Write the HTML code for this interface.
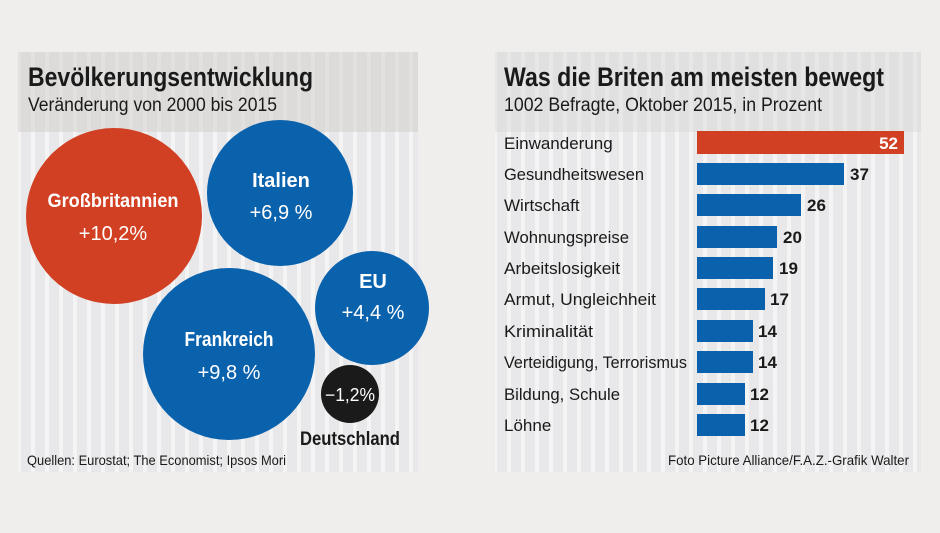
<!DOCTYPE html>
<html><head><meta charset="utf-8"><style>
body{margin:0;width:940px;height:528px;background:#f0eeec;overflow:hidden;font-family:"Liberation Sans",sans-serif;}
</style></head><body>
<svg width="940" height="528" viewBox="0 0 940 528" xmlns="http://www.w3.org/2000/svg" font-family="Liberation Sans, sans-serif">
<defs>
<pattern id="st" width="14" height="10" patternUnits="userSpaceOnUse"><rect width="14" height="10" fill="#e8e8ea"/><rect x="3" width="4" height="10" fill="#f4f4f5"/></pattern>
</defs>
<rect x="18" y="52" width="400" height="420" fill="url(#st)"/>
<rect x="18" y="52" width="400" height="80" fill="#cfcdc9" opacity="0.5"/>
<rect x="495" y="52" width="426" height="420" fill="url(#st)"/>
<rect x="495" y="52" width="426" height="80" fill="#d8d7d4" opacity="0.45"/>
<text x="28" y="86" font-size="27" font-weight="bold" fill="#1a1a1a" textLength="285" lengthAdjust="spacingAndGlyphs">Bevölkerungsentwicklung</text>
<text x="28" y="111" font-size="19" fill="#1a1a1a" textLength="249" lengthAdjust="spacingAndGlyphs">Veränderung von 2000 bis 2015</text>
<circle cx="114" cy="216" r="88" fill="#d24024"/>
<circle cx="280" cy="193" r="73" fill="#0a62ad"/>
<circle cx="372" cy="308" r="57" fill="#0a62ad"/>
<circle cx="229" cy="354" r="86" fill="#0a62ad"/>
<circle cx="350" cy="394" r="29" fill="#1a1a1a"/>
<g fill="#fff" text-anchor="middle" font-size="20">
<text x="113" y="207" font-weight="bold" font-size="19" textLength="131" lengthAdjust="spacingAndGlyphs">Großbritannien</text>
<text x="113" y="240">+10,2%</text>
<text x="281" y="187" font-weight="bold">Italien</text>
<text x="281" y="219">+6,9 %</text>
<text x="373" y="288" font-weight="bold">EU</text>
<text x="373" y="319">+4,4 %</text>
<text x="229" y="346" font-weight="bold" textLength="89" lengthAdjust="spacingAndGlyphs">Frankreich</text>
<text x="229" y="379">+9,8 %</text>
<text x="350" y="401" font-size="18" textLength="50" lengthAdjust="spacingAndGlyphs">−1,2%</text>
</g>
<text x="350" y="445" text-anchor="middle" font-size="19" font-weight="bold" fill="#1a1a1a" textLength="100" lengthAdjust="spacingAndGlyphs">Deutschland</text>
<text x="27" y="465" font-size="14" fill="#1a1a1a" textLength="259" lengthAdjust="spacingAndGlyphs">Quellen: Eurostat; The Economist; Ipsos Mori</text>
<text x="504" y="86" font-size="27" font-weight="bold" fill="#1a1a1a" textLength="380" lengthAdjust="spacingAndGlyphs">Was die Briten am meisten bewegt</text>
<text x="504" y="111" font-size="19" fill="#1a1a1a" textLength="318" lengthAdjust="spacingAndGlyphs">1002 Befragte, Oktober 2015, in Prozent</text>
<g font-size="17" fill="#1a1a1a">
<rect x="697" y="131" width="207" height="23" fill="#d24024"/>
<text x="504" y="149">Einwanderung</text><text x="898" y="149" text-anchor="end" fill="#fff" font-weight="bold">52</text>
<rect x="697" y="163" width="147" height="22" fill="#0a62ad"/>
<text x="504" y="180" textLength="140" lengthAdjust="spacingAndGlyphs">Gesundheitswesen</text><text x="850" y="180" font-weight="bold">37</text>
<rect x="697" y="194" width="104" height="22" fill="#0a62ad"/>
<text x="504" y="211">Wirtschaft</text><text x="807" y="211" font-weight="bold">26</text>
<rect x="697" y="226" width="80" height="22" fill="#0a62ad"/>
<text x="504" y="243" textLength="125" lengthAdjust="spacingAndGlyphs">Wohnungspreise</text><text x="783" y="243" font-weight="bold">20</text>
<rect x="697" y="257" width="76" height="22" fill="#0a62ad"/>
<text x="504" y="274" textLength="116" lengthAdjust="spacingAndGlyphs">Arbeitslosigkeit</text><text x="779" y="274" font-weight="bold">19</text>
<rect x="697" y="288" width="68" height="22" fill="#0a62ad"/>
<text x="504" y="305" textLength="152" lengthAdjust="spacingAndGlyphs">Armut, Ungleichheit</text><text x="770" y="305" font-weight="bold">17</text>
<rect x="697" y="320" width="56" height="22" fill="#0a62ad"/>
<text x="504" y="337" textLength="89" lengthAdjust="spacingAndGlyphs">Kriminalität</text><text x="758" y="337" font-weight="bold">14</text>
<rect x="697" y="351" width="56" height="22" fill="#0a62ad"/>
<text x="504" y="368" textLength="183" lengthAdjust="spacingAndGlyphs">Verteidigung, Terrorismus</text><text x="758" y="368" font-weight="bold">14</text>
<rect x="697" y="383" width="48" height="22" fill="#0a62ad"/>
<text x="504" y="400" textLength="116" lengthAdjust="spacingAndGlyphs">Bildung, Schule</text><text x="750" y="400" font-weight="bold">12</text>
<rect x="697" y="414" width="48" height="22" fill="#0a62ad"/>
<text x="504" y="431">Löhne</text><text x="750" y="431" font-weight="bold">12</text>
</g>
<text x="909" y="465" text-anchor="end" font-size="14" fill="#1a1a1a" textLength="241" lengthAdjust="spacingAndGlyphs">Foto Picture Alliance/F.A.Z.-Grafik Walter</text>
</svg>
</body></html>
